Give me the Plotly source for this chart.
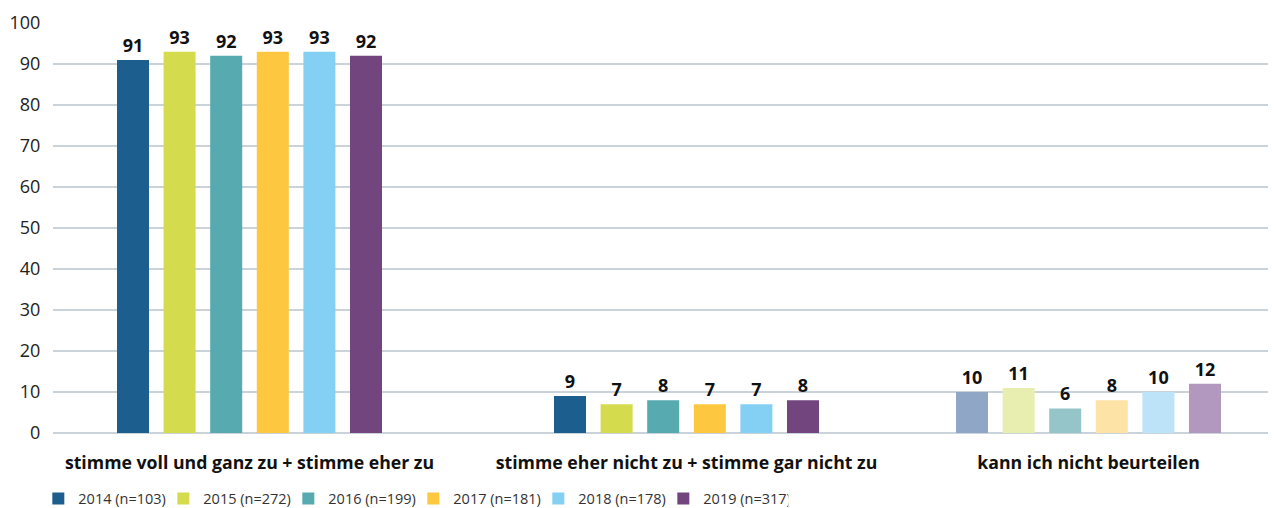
import plotly.graph_objects as go

categories = ["stimme voll und ganz zu + stimme eher zu",
              "stimme eher nicht zu + stimme gar nicht zu",
              "kann ich nicht beurteilen"]
series_names = ["2014 (n=103)", "2015 (n=272)", "2016 (n=199)",
                "2017 (n=181)", "2018 (n=178)", "2019 (n=317)"]
values_2014 = [91, 9, 10]
values_2015 = [93, 7, 11]
values_2016 = [92, 8, 6]
values_2017 = [93, 7, 8]
values_2018 = [93, 7, 10]
values_2019 = [92, 8, 12]
series_values = [values_2014, values_2015, values_2016, values_2017, values_2018, values_2019]
y_ticks = [0, 10, 20, 30, 40, 50, 60, 70, 80, 90, 100]

# layout: category centre positions on a pixel-like numeric axis
group_pos = [196.5, 633.5, 1035.5]

colors = ["#1c5e8e", "#d4dc4e", "#56aab0", "#fdc840", "#84d0f4", "#72457f"]
faded = ["#8fa6c6", "#e8edb0", "#96c5c9", "#fee3a6", "#bde3f8", "#b298be"]

fig = go.Figure()
for name, vals, c, f in zip(series_names, series_values, colors, faded):
    fig.add_trace(go.Bar(
        x=group_pos, y=vals, name=name,
        marker=dict(color=[c, c, f], line=dict(width=0)),
        text=[str(v) for v in vals], textposition="outside",
        textfont=dict(family="Open Sans", size=18, color="#111111", weight="bold"),
        cliponaxis=False,
    ))

fig.update_layout(
    width=1268, height=500,
    margin=dict(l=45, r=0, t=15, b=75, autoexpand=False),
    paper_bgcolor="white", plot_bgcolor="white",
    barmode="group", bargap=0.3045, bargroupgap=0.313,
    font=dict(family="Open Sans", color="#222222"),
    showlegend=True,
    legend=dict(orientation="h", x=-0.012, xanchor="left", y=-0.16, yanchor="middle",
                font=dict(size=14.5, color="#333333"), entrywidth=80,
                itemclick=False, traceorder="normal"),
    xaxis=dict(range=[0, 1223], tickvals=group_pos, ticktext=categories,
               tickfont=dict(size=17.7, color="#111111", weight="bold"),
               ticks="outside", ticklen=14, tickcolor="rgba(0,0,0,0)",
               showgrid=False, zeroline=False, showline=False, automargin=False),
    yaxis=dict(range=[0, 100], tickvals=y_ticks, tickfont=dict(size=18, color="#222222"),
               showgrid=True, gridcolor="#cbd3da", gridwidth=1.5,
               zeroline=True, zerolinecolor="#cbd3da", zerolinewidth=1.5,
               ticks="outside", ticklen=8, tickcolor="rgba(0,0,0,0)", automargin=False),
)

fig.write_html("out.html")
